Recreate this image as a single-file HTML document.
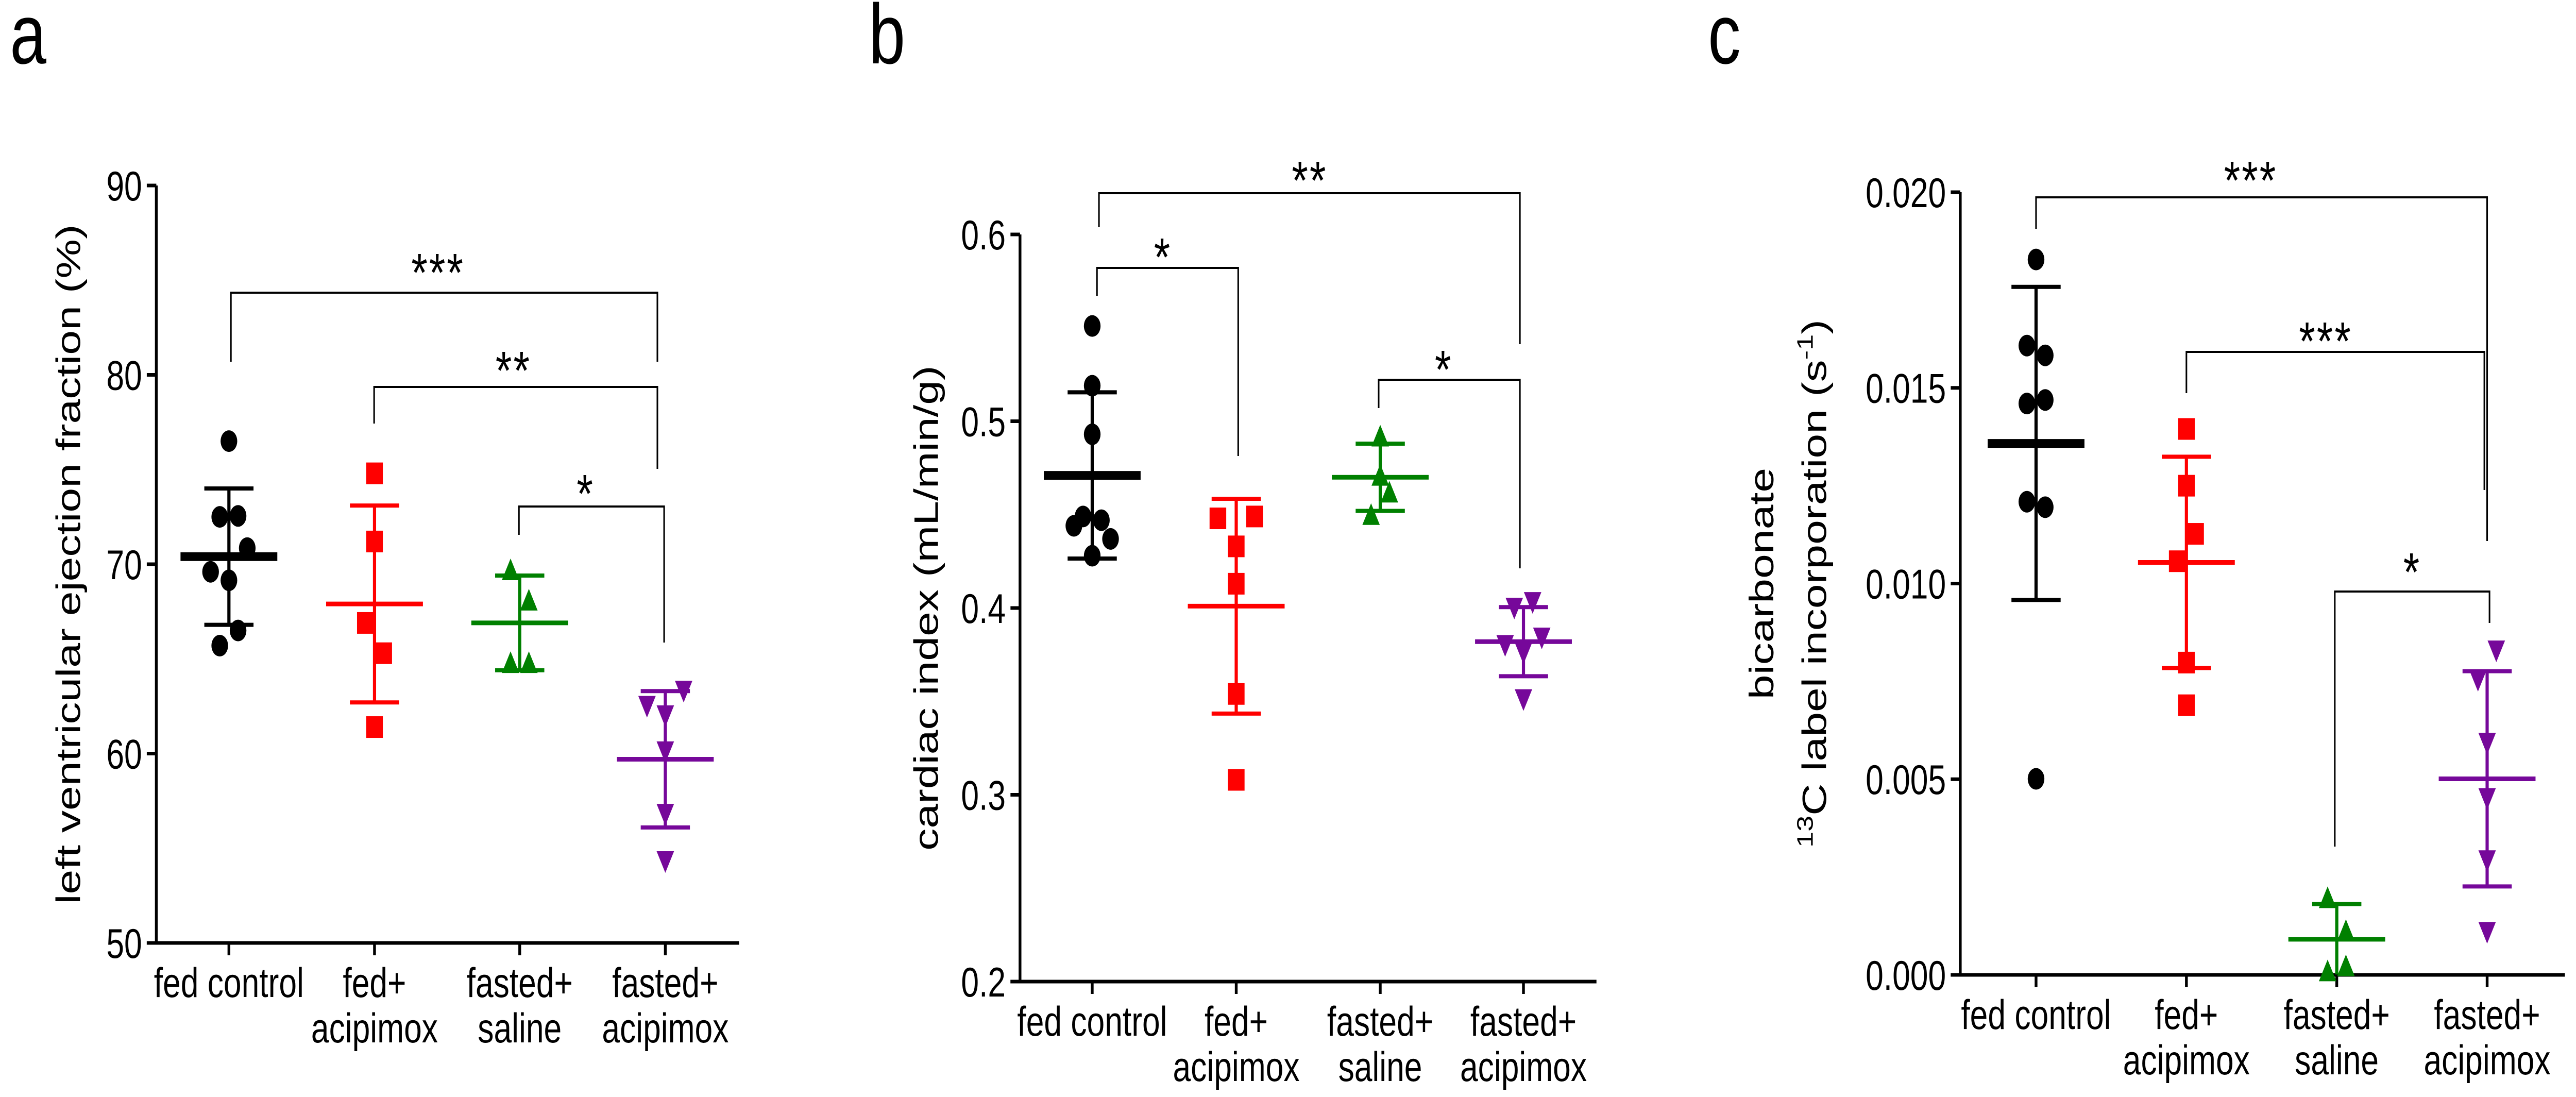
<!DOCTYPE html>
<html><head><meta charset="utf-8"><style>
html,body{margin:0;padding:0;background:#fff;overflow:hidden;width:100%;height:100%;}
svg{display:block;position:fixed;left:0;top:0;width:100vw;height:100vh;}
text{font-family:"Liberation Sans",Arial,sans-serif;fill:#000;}
</style></head><body>
<svg id="fig" viewBox="0 0 6493 2129" preserveAspectRatio="none" xmlns="http://www.w3.org/2000/svg"></svg>
<script>
// ---------- data ----------
const categories = ["fed control","fed+|acipimox","fasted+|saline","fasted+|acipimox"];
const colors = ["#000000","#ff0000","#008000","#76089a"];
const shapes = ["circle","square","tri-up","tri-down"];

// panel a: LVEF (%)
const aTicks = [50,60,70,80,90];
const aFed = [76.5,72.5,72.55,70.85,69.6,69.15,66.5,65.7];
const aFedAci = [74.8,71.2,66.9,65.3,61.4];
const aFastSal = [69.7,68.1,64.8,64.8];
const aFastAci = [63.3,62.5,62.0,60.1,56.8,54.3];
const aMean = [70.4,67.9,66.9,59.7];
const aSD = [3.6,5.2,2.5,3.6];

// panel b: cardiac index
const bTicks = [0.2,0.3,0.4,0.5,0.6];
const bFed = [0.551,0.519,0.493,0.449,0.444,0.447,0.437,0.428];
const bFedAci = [0.448,0.449,0.433,0.413,0.354,0.308];
const bFastSal = [0.492,0.471,0.462,0.450];
const bFastAci = [0.400,0.403,0.380,0.384,0.376,0.351];
const bMean = [0.471,0.401,0.470,0.382];
const bSD = [0.0445,0.0575,0.018,0.0185];

// panel c: 13C label incorporation
const cTicks = [0.000,0.005,0.010,0.015,0.020];
const cFed = [0.01828,0.01608,0.01583,0.0146,0.01469,0.01209,0.01195,0.00501];
const cFedAci = [0.01395,0.0125,0.01127,0.01057,0.00798,0.00689];
const cFastSal = [0.00197,0.00113,0.0001,0.00023];
const cFastAci = [0.00828,0.00753,0.00592,0.00451,0.00292,0.00109];
const cMean = [0.01358,0.01054,0.00091,0.00501];
const cSD = [0.0040,0.0027,0.0009,0.00275];

// horizontal jitter slots (in marker units) for each point
const jitA = [[0,-0.55,0.55,1.1,-1.1,0,0.55,-0.55],[0,0,-0.55,0.55,0],[-0.55,0.55,-0.55,0.55],[1.1,-1.1,0,0,0,0]];
const jitB = [[0,0,0,-0.55,-1.1,0.55,1.1,0],[-1.1,1.1,0,0,0,0],[0,0,0.55,-0.55],[-0.55,0.55,-1.1,1.1,0,0]];
const jitC = [[0,-0.55,0.55,-0.55,0.55,-0.55,0.55,0],[0,0,0.55,-0.55,0,0],[-0.55,0.55,-0.55,0.55],[0.55,-0.55,0,0,0,0]];

// ---------- drawing ----------
const NS="http://www.w3.org/2000/svg";
const svg=document.getElementById('fig');
function el(tag,attrs,parent){const e=document.createElementNS(NS,tag);for(const k in attrs)e.setAttribute(k,attrs[k]);(parent||svg).appendChild(e);return e;}
function line(g,x1,y1,x2,y2,w,c){return el('line',{x1,y1,x2,y2,stroke:c||'#000','stroke-width':w},g);}

function panel(cfg){
  const g=el('g',{});
  
  
  const y=v=>cfg.y0+(v-cfg.vmin)/(cfg.vmax-cfg.vmin)*(cfg.y1-cfg.y0);
  const x=i=>cfg.cx[i];
  const L=el('text',{x:cfg.letterX,y:123,'font-size':165},g);L.textContent=cfg.letter;
  
  
  const ax=el('g',{},g);
  
  
  line(ax,cfg.ax,cfg.y0+3.5,cfg.ax,cfg.y1,7);
  cfg.ticks.forEach(t=>{
    line(ax,cfg.ax-24,y(t),cfg.ax,y(t),7);
    const tx=el('text',{x:cfg.ax-36,y:y(t)+29,'font-size':81,'text-anchor':'end'},ax);
    tx.textContent=cfg.fmt(t);
    
    
  });
  const xa=el('g',{},g);
  
  
  line(xa,cfg.ax-24,cfg.y0,cfg.xEnd,cfg.y0,7);
  categories.forEach((c,i)=>{
    line(xa,x(i),cfg.y0,x(i),cfg.y0+24,7);
    c.split('|').forEach((s,j)=>{
      const t=el('text',{x:x(i),y:cfg.y0+105+j*88,'font-size':81,'text-anchor':'middle'},xa);
      t.textContent=s;
      
      
    });
  });
  cfg.titles.forEach(tt=>{
    const t=el('text',{x:0,y:0,'font-size':86,'text-anchor':'middle',transform:`translate(${tt.x},${(cfg.y0+cfg.y1)/2}) rotate(-90)`},g);
    t.innerHTML=tt.html;
    
    
  });
  cfg.series.forEach((vals,i)=>{
    const sg=el('g',{fill:colors[i]},g);
    
    
    vals.forEach((v,k)=>{
      const px=x(i)+cfg.jit[i][k]*42, py=y(v);
      let m;
      if(shapes[i]==='circle') m=el('circle',{cx:px,cy:py,r:21},sg);
      else if(shapes[i]==='square') m=el('rect',{x:px-21,y:py-21,width:42,height:42},sg);
      else if(shapes[i]==='tri-up') m=el('polygon',{points:`${px-22},${py+20} ${px+22},${py+20} ${px},${py-22}`},sg);
      else m=el('polygon',{points:`${px-22},${py-20} ${px+22},${py-20} ${px},${py+22}`},sg);
      
      
    });
    const c=colors[i], mw=i===0?17:9;
    const hi=y(cfg.mean[i]+cfg.sd[i]), lo=Math.min(y(cfg.mean[i]-cfg.sd[i]),cfg.y0);
    const eb=el('g',{},g);
    
    
    line(eb,x(i),hi,x(i),lo,8,c);
    line(eb,x(i)-62,hi,x(i)+62,hi,8,c);
    if(y(cfg.mean[i]-cfg.sd[i])<cfg.y0-5) line(eb,x(i)-62,lo,x(i)+62,lo,8,c);
    line(eb,x(i)-122,y(cfg.mean[i]),x(i)+122,y(cfg.mean[i]),mw,c);
  });
  cfg.brackets.forEach(b=>{
    const bg=el('g',{},g);
    
    
    el('polyline',{points:`${b.x1},${b.d1} ${b.x1},${b.y} ${b.x2},${b.y} ${b.x2},${b.d2}`,fill:'none',stroke:'#000','stroke-width':4},bg);
    const t=el('text',{x:b.sx,y:b.sy+60,'font-size':105,'text-anchor':'middle','letter-spacing':4},bg);
    t.textContent=b.s;
  });
}

panel({name:'panel-a',letter:'a',letterX:25,ax:394,y0:1830,y1:360,vmin:50,vmax:90,xEnd:1863,
  cx:[577,944,1310,1677],ticks:aTicks,fmt:t=>String(t),
  series:[aFed,aFedAci,aFastSal,aFastAci],mean:aMean,sd:aSD,jit:jitA,
  titles:[{x:202,html:'left ventricular ejection fraction (%)'}],
  brackets:[{x1:582,x2:1657,y:568,d1:702,d2:702,s:'***',sx:1104,sy:505},
            {x1:943,x2:1657,y:751,d1:822,d2:910,s:'**',sx:1294,sy:695},
            {x1:1308,x2:1674,y:983,d1:1038,d2:1247,s:'*',sx:1476,sy:934}]});

panel({name:'panel-b',letter:'b',letterX:2190,ax:2571,y0:1905,y1:455,vmin:0.2,vmax:0.6,xEnd:4024,
  cx:[2753,3116,3479,3840],ticks:bTicks,fmt:t=>t.toFixed(1),
  series:[bFed,bFedAci,bFastSal,bFastAci],mean:bMean,sd:bSD,jit:jitB,
  titles:[{x:2364,html:'cardiac index (mL/min/g)'}],
  brackets:[{x1:2770,x2:3831,y:375,d1:441,d2:668,s:'**',sx:3301,sy:326},
            {x1:2765,x2:3121,y:520,d1:574,d2:885,s:'*',sx:2931,sy:475},
            {x1:3475,x2:3831,y:737,d1:792,d2:1103,s:'*',sx:3639,sy:693}]});

panel({name:'panel-c',letter:'c',letterX:4305,ax:4941,y0:1892,y1:373,vmin:0,vmax:0.02,xEnd:6465,
  cx:[5132,5511,5890,6269],ticks:cTicks,fmt:t=>t.toFixed(3),
  series:[cFed,cFedAci,cFastSal,cFastAci],mean:cMean,sd:cSD,jit:jitC,
  titles:[{x:4470,html:'bicarbonate'},{x:4603,html:'<tspan font-size="56" dy="-34">13</tspan><tspan dy="34">C label incorporation (s</tspan><tspan font-size="56" dy="-34">-1</tspan><tspan dy="34">)</tspan>'}],
  brackets:[{x1:5132,x2:6269,y:383,d1:444,d2:1050,s:'***',sx:5673,sy:326},
            {x1:5511,x2:6262,y:683,d1:763,d2:951,s:'***',sx:5862,sy:638},
            {x1:5885,x2:6275,y:1148,d1:1643,d2:1209,s:'*',sx:6080,sy:1086}]});
</script>
</body></html>
